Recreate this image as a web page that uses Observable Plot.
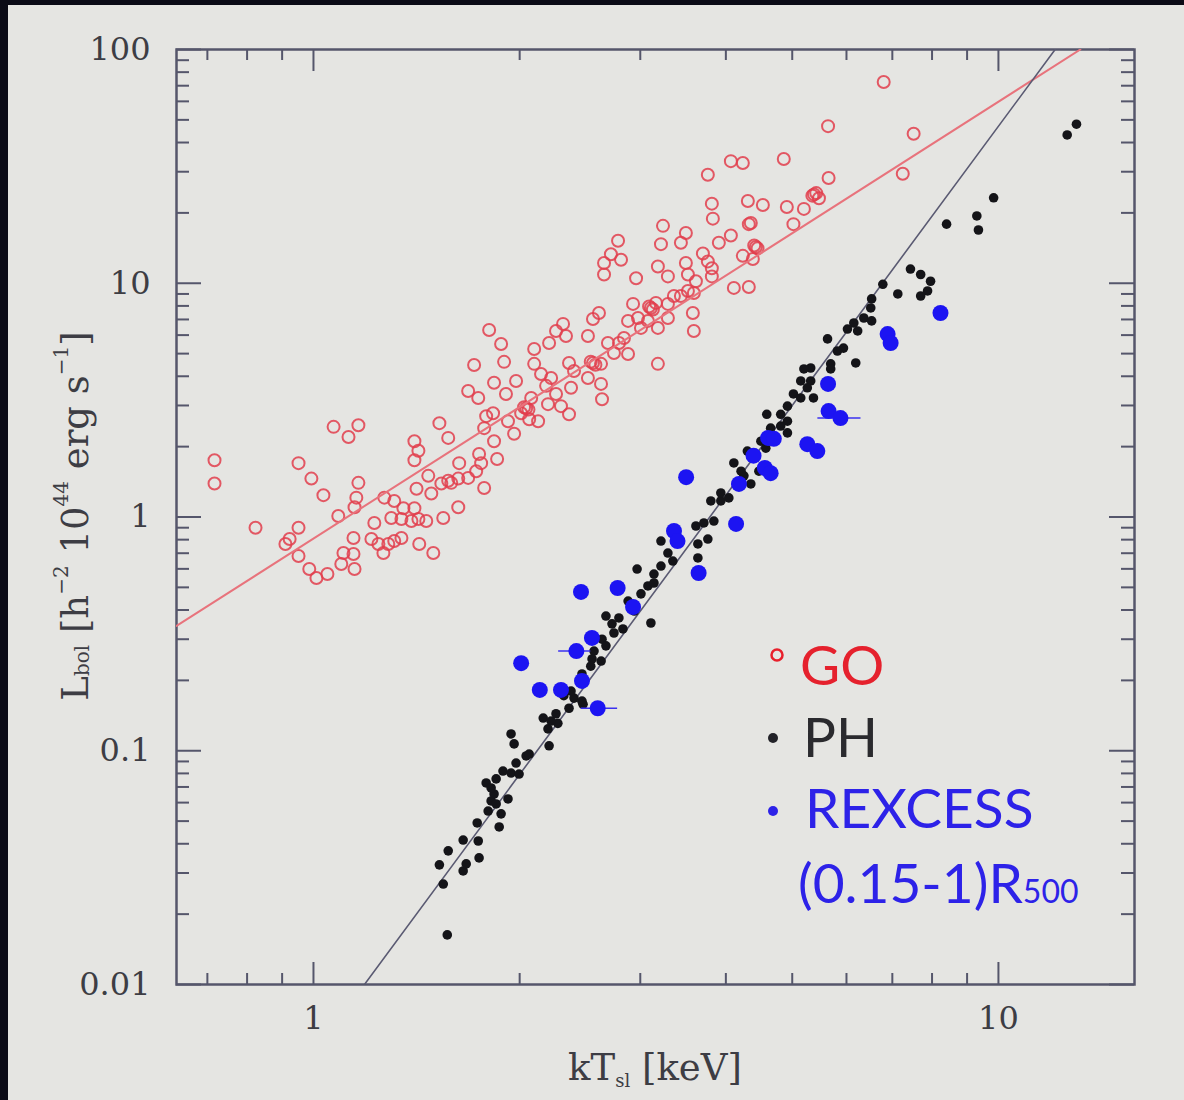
<!DOCTYPE html>
<html>
<head>
<meta charset="utf-8">
<script src="https://cdn.jsdelivr.net/npm/d3@7"></script>
<script src="https://cdn.jsdelivr.net/npm/@observablehq/plot@0.6"></script>
<style>
  html, body { margin: 0; padding: 0; background: #e5e5e2; overflow: hidden; }
  #wrap { position: relative; width: 1184px; height: 1100px; overflow: hidden; background: #e5e5e2; }
  #chart svg { display: block; }
  .edge-left { position: absolute; left: 0; top: 0; width: 8px; height: 1100px; background: #0b0b16; }
  .edge-top { position: absolute; left: 0; top: 0; width: 1184px; height: 5px; background: #0b0b16; }
</style>
</head>
<body>
<div id="wrap">
  <div id="chart"></div>
  <div class="edge-left"></div>
  <div class="edge-top"></div>
</div>
<script>
// Gravity-only simulation (GO): [kT (keV), L_bol (1e44 h^-2 erg/s)]
const goData = [
  [0.717,1.75],[0.717,1.39],[0.823,0.90],[0.951,1.70],[0.993,1.46],[1.034,1.24],[1.07,2.43],[1.125,2.20],
  [1.163,2.47],[0.951,0.90],[0.910,0.767],[0.923,0.805],[0.951,0.681],[0.986,0.599],[1.01,0.548],[1.048,0.570],
  [1.087,1.01],[1.098,0.629],[1.106,0.701],[1.144,0.695],[1.148,0.599],[1.144,0.813],[1.163,1.40],[1.155,1.21],
  [1.148,1.10],[1.227,0.943],[1.215,0.805],[1.244,0.767],[1.265,0.701],[1.286,0.767],[1.312,0.789],[1.344,0.813],
  [1.269,1.21],[1.312,1.17],[1.353,1.09],[1.299,0.99],[1.344,0.98],[1.39,0.961],[1.423,0.98],[1.461,0.961],
  [1.404,1.09],[1.427,0.767],[1.496,0.701],[1.547,0.99],[1.627,1.10],[1.414,1.32],[1.471,1.50],[1.486,1.26],
  [1.404,2.11],[1.423,1.92],[1.404,1.75],[1.527,2.52],[1.573,2.18],[1.632,1.70],[1.573,1.43],[1.627,1.46],
  [1.682,1.47],[1.728,1.57],[1.757,1.70],[1.745,1.86],[1.775,1.33],[1.682,3.46],[1.740,3.23],[1.787,2.70],
  [1.829,2.78],[1.835,2.11],[1.854,1.77],[1.775,2.40],[1.537,1.39],[1.589,1.40],
  [1.805,6.31],[1.879,5.50],[1.898,4.61],[1.716,4.47],[2.10,5.23],[2.26,6.25],[2.314,6.70],[2.337,5.95],
  [2.208,5.55],[2.516,5.95],[2.559,7.03],[2.611,7.46],[2.361,4.56],[2.559,4.56],[2.629,4.52],[2.629,3.71],
  [2.638,3.19],[2.691,5.55],[2.793,5.55],[2.746,5.03],[2.879,4.98],[2.84,5.83],[2.879,6.90],[2.928,8.16],
  [2.977,7.10],[3.007,6.44],[3.078,6.90],[3.109,7.84],[3.162,8.24],[3.183,6.44],[3.292,7.10],[3.292,8.16],
  [3.359,8.82],[3.439,8.82],[3.521,9.27],[3.592,9.08],[3.58,7.46],[3.592,6.25],[3.183,4.52],[2.958,10.5],
  [2.656,12.2],[2.656,10.9],[2.784,15.2],[2.812,12.6],[2.718,13.3],[3.216,14.7],[3.238,17.6],[3.439,14.9],
  [3.497,16.4],[3.183,11.8],[3.292,10.7],[3.497,12.2],[3.521,10.9],[3.617,10.2],[3.703,13.4],[3.765,12.4],
  [3.816,11.6],[3.907,14.9],[4.068,16.0],[4.235,13.1],[4.38,12.7],[4.109,9.55],[4.321,9.64],[4.424,14.3],
  [4.321,17.9],[3.816,10.7],[1.835,3.75],[1.976,3.82],[1.91,3.36],[1.923,2.57],[1.963,2.27],[2.044,2.92],
  [2.079,3.23],[2.128,2.57],[2.149,4.09],[2.223,3.93],[2.26,3.36],[2.20,3.04],[2.298,2.98],[2.361,2.75],
  [2.377,3.57],[2.401,4.21],[2.516,3.93],[2.10,4.52],[2.01,2.78],[2.065,2.62],[2.186,3.64],
  [5.64,47.0],[7.52,43.6],[7.25,29.4],[5.65,28.2],[4.86,34.0],[4.068,33.3],[4.235,32.7],[3.765,29.1],
  [3.816,21.9],[3.829,18.9],[4.307,22.5],[4.53,21.6],[4.91,21.2],[5.20,20.8],[5.38,24.0],[5.47,23.1],
  [5.02,17.9],[4.35,18.1],[6.80,72.6],
  [2.54,4.62],[2.58,4.48],[2.03,2.95],[2.06,2.88],[3.09,7.95],[3.13,7.72],[4.40,14.5],[4.45,14.1],
  [5.35,23.7],[5.42,24.3]
];

// Preheating simulation (PH)
const phData = [
  [1.568,0.0163],[1.547,0.0269],[1.527,0.0325],[1.573,0.0373],[1.654,0.0306],[1.671,0.0328],[1.745,0.0348],
  [1.740,0.0411],[1.654,0.0415],[1.734,0.0491],[1.867,0.0472],[1.879,0.0537],[1.799,0.0552],[1.817,0.0610],
  [1.923,0.0622],[1.835,0.0653],[1.787,0.0728],[1.848,0.0758],[1.891,0.0819],[1.943,0.0803],[1.996,0.0795],
  [1.976,0.0886],[2.044,0.0950],[2.065,0.0968],[1.943,0.118],[1.963,0.107],[2.208,0.105],[2.200,0.124],
  [2.165,0.138],[2.260,0.144],[2.274,0.131],[2.475,0.158],[1.817,0.0693],[1.848,0.0592],
  [4.109,1.703],[4.25,1.50],[4.35,1.385],[3.803,1.171],[3.933,1.171],[4.04,1.207],[3.842,0.961],[3.715,0.943],
  [3.617,0.915],[3.765,0.805],[3.641,0.767],[3.641,0.668],[3.216,0.789],[3.292,0.701],[3.347,0.648],[3.216,0.617],
  [3.141,0.570],[2.968,0.599],[3.078,0.507],[3.141,0.522],[3.007,0.469],[3.109,0.352],[2.673,0.377],[2.728,0.349],
  [2.792,0.370],[2.746,0.319],[2.638,0.300],[2.673,0.281],[2.568,0.267],[2.551,0.247],[2.466,0.213],[2.401,0.168],
  [2.466,0.163],[2.361,0.152],[2.223,0.134],[2.88,0.437],[2.94,0.396],[2.83,0.332],[2.54,0.230],[2.63,0.242],
  [2.377,0.180],[2.32,0.172],
  [7.44,11.5],[7.70,10.9],[7.96,10.2],[7.88,9.27],[7.70,8.82],[7.13,9.0],[6.78,9.9],[6.53,8.57],[6.51,7.84],
  [6.36,7.10],[6.53,6.90],[6.15,6.76],[6.23,6.25],[6.02,6.37],[5.63,5.78],[5.94,5.28],[5.82,5.13],[6.19,4.56],
  [5.69,4.52],[5.69,4.30],[5.32,4.34],[5.20,4.30],[5.145,3.82],[5.32,3.82],[5.26,3.57],[5.02,3.36],[5.145,3.23],
  [5.37,3.23],[4.92,2.98],[4.59,2.75],[4.81,2.75],[4.92,2.57],[4.81,2.45],[4.92,2.29],[4.65,2.40],[3.933,1.267],
  [4.5,2.11],[4.575,1.97],[4.30,1.915],[4.21,1.57],[4.47,1.57],
  [13.0,47.9],[12.6,43.1],[9.84,23.2],[9.30,19.4],[9.35,16.9],[8.40,17.9]
];

// REXCESS clusters, (0.15-1) R500 aperture
const rxData = [
  [3.50,1.48],[3.36,0.871],[3.40,0.789],[4.14,0.934],[3.65,0.576],[2.458,0.478],[2.78,0.497],[2.928,0.412],
  [2.55,0.304],[2.42,0.267],[2.01,0.237],[2.14,0.182],[2.298,0.182],[2.466,0.199],[2.60,0.152],[4.18,1.385],
  [4.39,1.83],[4.56,1.62],[4.65,1.54],[4.61,2.18],[4.70,2.16],[5.26,2.05],[5.44,1.915],[5.64,3.71],
  [5.65,2.84],[5.88,2.65],[6.89,6.06],[6.96,5.55],[8.23,7.46]
];

// Temperature error bars on REXCESS points: [kT low, kT high, L]
const rxErrors = [[2.28,2.54,0.267],[2.46,2.78,0.152],[5.45,6.30,2.65]];

// Power-law fits, given by their end points at the frame edges
const goFit = [[0.631,0.342],[13.17,100]];
const phFit = [[1.187,0.01],[12.1,100]];

// Axis ticks
const xMajor = [1, 10];
const xMinor = [0.7, 0.8, 0.9, 2, 3, 4, 5, 6, 7, 8, 9];
const yMajor = [0.01, 0.1, 1, 10, 100];
const yMinor = [-2, -1, 0, 1].flatMap(e => [2,3,4,5,6,7,8,9].map(m => +(m * 10 ** e).toPrecision(3)));

const W = 1184, H = 1100;
const mL = 176, mR = 50, mT = 49, mB = 116;
const innerW = W - mL - mR, innerH = H - mT - mB;
const axisColor = "#55566b";
const tickStyle = {stroke: axisColor, strokeWidth: 2};

const chart = Plot.plot({
  width: W, height: H,
  marginLeft: mL, marginRight: mR, marginTop: mT, marginBottom: mB,
  x: {type: "log", domain: [0.631, 15.8]},
  y: {type: "log", domain: [0.01, 100]},
  style: {background: "transparent", fontFamily: "'DejaVu Serif', serif", fontSize: "32px", color: "#3d3d44", overflow: "visible"},
  marks: [
    // inward ticks on all four sides
    Plot.tickX(xMinor, {...tickStyle, insetBottom: innerH - 11}),
    Plot.tickX(xMinor, {...tickStyle, insetTop: innerH - 11}),
    Plot.tickX(xMajor, {...tickStyle, insetBottom: innerH - 22}),
    Plot.tickX(xMajor, {...tickStyle, insetTop: innerH - 22}),
    Plot.tickY(yMinor, {...tickStyle, insetRight: innerW - 13}),
    Plot.tickY(yMinor, {...tickStyle, insetLeft: innerW - 13}),
    Plot.tickY(yMajor, {...tickStyle, insetRight: innerW - 25}),
    Plot.tickY(yMajor, {...tickStyle, insetLeft: innerW - 25}),
    Plot.axisX({ticks: xMajor, anchor: "bottom", tickSize: 0, tickPadding: 22, tickFormat: d => String(d), label: null, fontSize: 32}),
    Plot.axisY({ticks: yMajor, anchor: "left", tickSize: 0, tickPadding: 26, tickFormat: d => String(d), label: null, fontSize: 32}),
    Plot.frame({stroke: axisColor, strokeWidth: 2.5}),
    Plot.dot(goData, {x: d => d[0], y: d => d[1], r: 6, fill: "none", stroke: "#e23e4c", strokeWidth: 2, strokeOpacity: 0.85}),
    Plot.line(goFit, {x: d => d[0], y: d => d[1], stroke: "#e8737c", strokeWidth: 2, clip: true}),
    Plot.line(phFit, {x: d => d[0], y: d => d[1], stroke: "#5a5a72", strokeWidth: 1.6, clip: true}),
    Plot.dot(phData, {x: d => d[0], y: d => d[1], r: 4.8, fill: "#141418"}),
    Plot.ruleY(rxErrors, {x1: d => d[0], x2: d => d[1], y: d => d[2], stroke: "#3a30f0", strokeWidth: 1.6}),
    Plot.dot(rxData, {x: d => d[0], y: d => d[1], r: 8, fill: "#1c14f2"})
  ]
});

document.getElementById("chart").appendChild(chart);

const svg = d3.select(chart);
const serif = "'DejaVu Serif', serif";
const titleColor = "#3d3d44";

// y-axis title: L_bol [h^-2 10^44 erg s^-1]
const yt = svg.append("text")
  .attr("transform", "translate(75,516) rotate(-90)")
  .attr("text-anchor", "middle")
  .attr("dominant-baseline", "central")
  .attr("font-family", serif).attr("font-size", 37).attr("fill", titleColor);
yt.append("tspan").text("L");
yt.append("tspan").attr("font-size", 20).attr("dy", 7).text("bol");
yt.append("tspan").attr("dy", -7).text(" [h");
yt.append("tspan").attr("font-size", 20).attr("dy", -14).text("−2");
yt.append("tspan").attr("dy", 14).text(" 10");
yt.append("tspan").attr("font-size", 20).attr("dy", -14).text("44");
yt.append("tspan").attr("dy", 14).text(" erg s");
yt.append("tspan").attr("font-size", 20).attr("dy", -14).text("−1");
yt.append("tspan").attr("dy", 14).text("]");

// x-axis title: kT_sl [keV]
const xt = svg.append("text")
  .attr("x", 655).attr("y", 1080)
  .attr("text-anchor", "middle")
  .attr("font-family", serif).attr("font-size", 37).attr("fill", titleColor);
xt.append("tspan").text("kT");
xt.append("tspan").attr("font-size", 18).attr("dy", 7).text("sl");
xt.append("tspan").attr("dy", -7).text(" [keV]");

// legend
const lg = svg.append("g")
  .attr("font-family", "'Gill Sans', Lato, sans-serif")
  .attr("font-size", 55)
  .attr("text-anchor", "start");
lg.append("circle").attr("cx", 777).attr("cy", 655).attr("r", 5.5)
  .attr("fill", "none").attr("stroke", "#e8202c").attr("stroke-width", 2.5);
lg.append("text").attr("x", 800).attr("y", 685).attr("fill", "#e5212d").text("GO");
lg.append("circle").attr("cx", 773).attr("cy", 738).attr("r", 5).attr("fill", "#222228");
lg.append("text").attr("x", 803).attr("y", 757).attr("fill", "#2a2a2e").text("PH");
lg.append("circle").attr("cx", 773).attr("cy", 811).attr("r", 5).attr("fill", "#2d22e8");
lg.append("text").attr("x", 805).attr("y", 828).attr("fill", "#2d22e8").text("REXCESS");
const t4 = lg.append("text").attr("x", 798).attr("y", 903).attr("fill", "#2d22e8");
t4.append("tspan").text("(0.15-1)R");
t4.append("tspan").attr("font-size", 32).text("500");
</script>
</body>
</html>
